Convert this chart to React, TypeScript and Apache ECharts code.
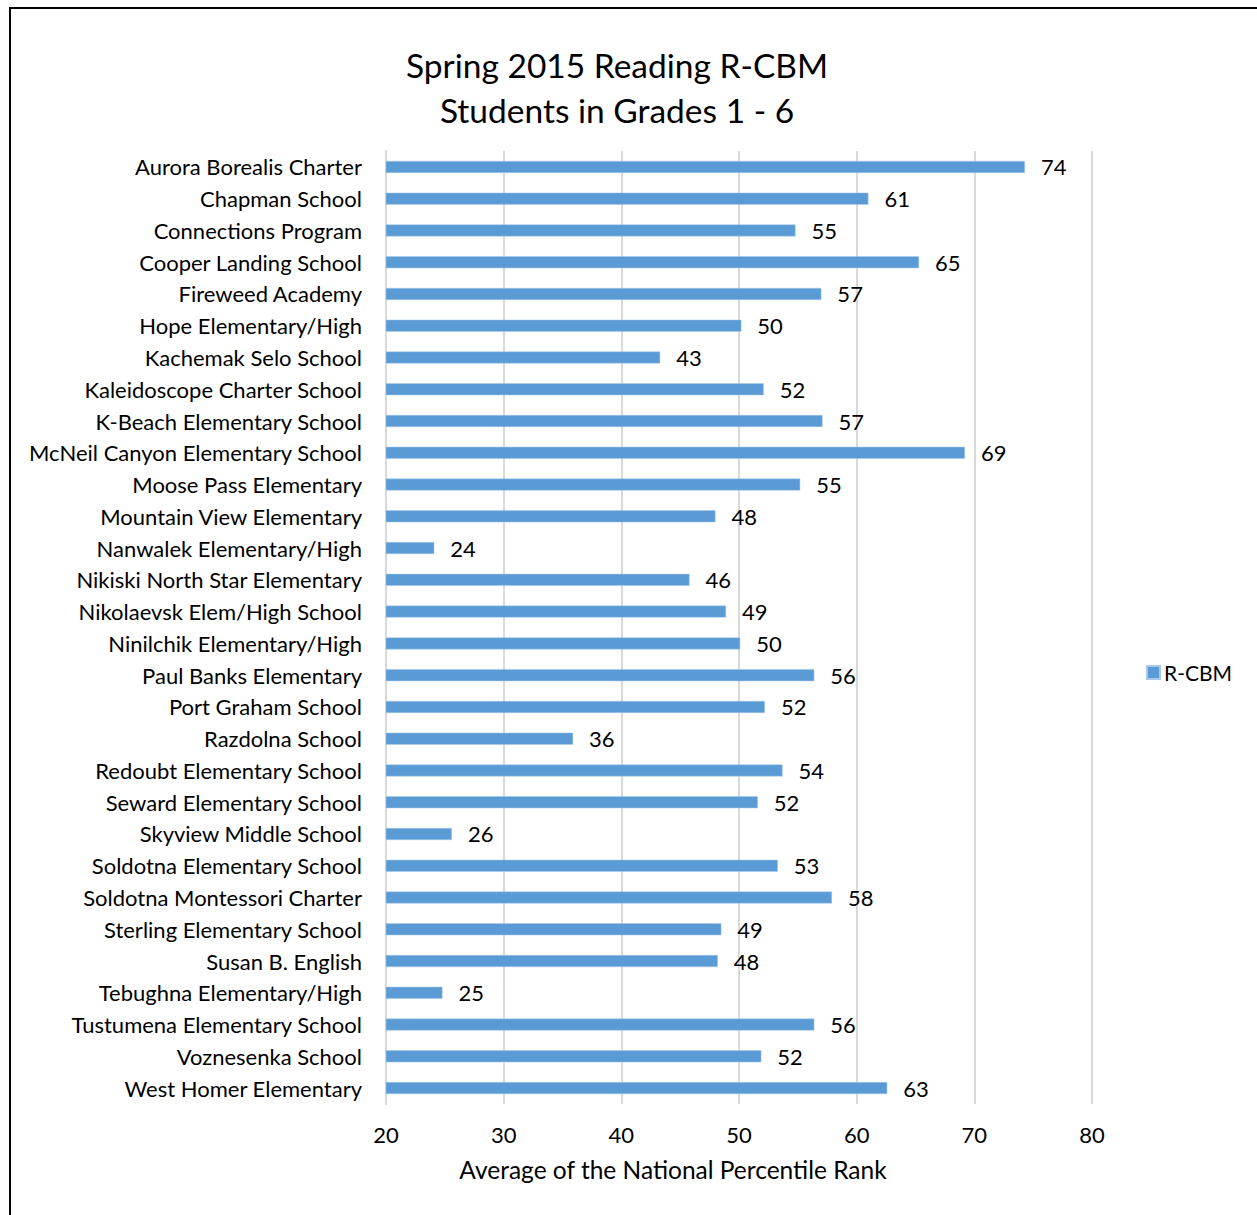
import React, { useEffect, useRef } from "react";
import * as echarts from "echarts";

const schools: string[] = [
  "Aurora Borealis Charter",
  "Chapman School",
  "Connections Program",
  "Cooper Landing School",
  "Fireweed Academy",
  "Hope Elementary/High",
  "Kachemak Selo School",
  "Kaleidoscope Charter School",
  "K-Beach Elementary School",
  "McNeil Canyon Elementary School",
  "Moose Pass Elementary",
  "Mountain View Elementary",
  "Nanwalek Elementary/High",
  "Nikiski North Star Elementary",
  "Nikolaevsk Elem/High School",
  "Ninilchik Elementary/High",
  "Paul Banks Elementary",
  "Port Graham School",
  "Razdolna School",
  "Redoubt Elementary School",
  "Seward Elementary School",
  "Skyview Middle School",
  "Soldotna Elementary School",
  "Soldotna Montessori Charter",
  "Sterling Elementary School",
  "Susan B. English",
  "Tebughna Elementary/High",
  "Tustumena Elementary School",
  "Voznesenka School",
  "West Homer Elementary",
];

const rcbm: number[] = [
  74.3, 61.0, 54.8, 65.3, 57.0, 50.2, 43.3, 52.1, 57.1, 69.2,
  55.2, 48.0, 24.1, 45.8, 48.9, 50.1, 56.4, 52.2, 35.9, 53.7,
  51.6, 25.6, 53.3, 57.9, 48.5, 48.2, 24.8, 56.4, 51.9, 62.6,
];

const titleLines: string[] = ["Spring 2015 Reading R-CBM", "Students in Grades 1 - 6"];
const xAxisName = "Average of the National Percentile Rank";
const seriesName = "R-CBM";

const FONT = "Lato, 'Open Sans', sans-serif";

export default function App() {
  const ref = useRef<HTMLDivElement>(null);
  useEffect(() => {
    document.body.style.margin = "0";
    const chart = echarts.init(ref.current!, null, { renderer: "svg" });
    chart.setOption({
      animation: false,
      backgroundColor: "#ffffff",
      textStyle: { fontFamily: FONT },
      title: {
        text: titleLines.join("\n"),
        left: 612,
        textAlign: "center",
        top: 37,
        textStyle: { fontSize: 33.5, fontWeight: "normal", color: "#000", lineHeight: 45, fontFamily: FONT },
      },
      legend: {
        data: [seriesName],
        left: 1141,
        top: 657,
        itemWidth: 13,
        itemHeight: 13,
        itemGap: 6,
        icon: "rect",
        textStyle: { fontSize: 21, color: "#000", fontFamily: FONT, padding: [0, 0, 0, -1] },
      },
      grid: { left: 386, width: 706, top: 151, height: 953, containLabel: false },
      xAxis: {
        type: "value",
        min: 20,
        max: 80,
        interval: 10,
        axisLine: { show: false },
        axisTick: { show: false },
        splitLine: { show: true, lineStyle: { color: "#d9d9d9", width: 2 } },
        axisLabel: { fontSize: 22, color: "#000", margin: 19, fontFamily: FONT },
        name: xAxisName,
        nameLocation: "middle",
        nameGap: 53,
        nameTextStyle: { fontSize: 24.5, color: "#000", fontFamily: FONT, padding: [0, 132, 0, 0] },
      },
      yAxis: {
        type: "category",
        data: schools,
        inverse: true,
        axisLine: { show: true, lineStyle: { color: "#d9d9d9", width: 2 } },
        axisTick: { show: false },
        axisLabel: { fontSize: 22, color: "#000", margin: 24, fontFamily: FONT },
      },
      series: [
        {
          name: seriesName,
          type: "bar",
          data: rcbm,
          barWidth: 12,
          itemStyle: { color: "#5b9bd5", borderColor: "#a9c8ea", borderWidth: 0.5 },
          label: {
            show: true,
            position: "right",
            distance: 16,
            fontSize: 22,
            color: "#000",
            fontFamily: FONT,
            formatter: (p: any) => Math.round(p.value).toString(),
          },
        },
      ],
      graphic: [
        {
          type: "rect",
          shape: { x: 10, y: 8, width: 1400, height: 1400 },
          style: { fill: "none", stroke: "#000", lineWidth: 2 },
          silent: true,
        },
      ],
    });
    return () => chart.dispose();
  }, []);
  return <div ref={ref} style={{ width: 1257, height: 1215 }} />;
}
